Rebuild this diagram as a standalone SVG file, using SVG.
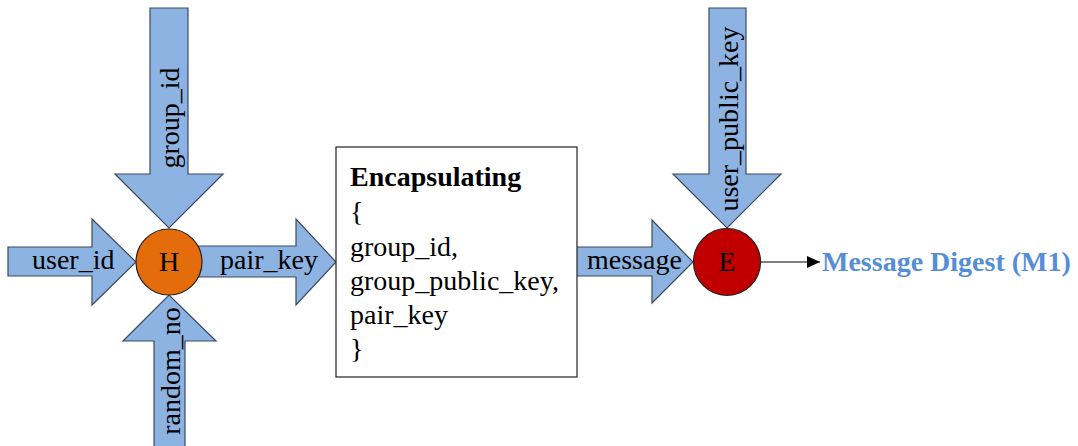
<svg xmlns="http://www.w3.org/2000/svg" width="1078" height="446" viewBox="0 0 1078 446">
<defs>
<style>
.arr{fill:#8db3e2;stroke:#3b4a5e;stroke-width:1.2;stroke-linejoin:miter}
.node{stroke:#222;stroke-width:1.2}
</style>
<marker id="ah" markerWidth="13" markerHeight="12" refX="13" refY="6" orient="auto" markerUnits="userSpaceOnUse">
<path d="M0,0 L13,6 L0,12 Z" fill="#000"/>
</marker>
</defs>
<rect width="1078" height="446" fill="#fff"/>
<g font-family="'Liberation Serif', 'Times New Roman', serif" font-size="28" fill="#000">
<g id="connectors">
<g id="arrow-group_id">
<path class="arr" d="M150,8 H188 V174 H223 L169,228 L115,174 H150 Z"/>
<text transform="translate(179,118) rotate(-90)" text-anchor="middle">group_id</text>
</g>
<g id="arrow-user_id">
<path class="arr" d="M8,247 H92 V219 L136,262 L92,305 V276 H8 Z"/>
<text x="32" y="269">user_id</text>
</g>
<g id="arrow-random_no">
<path class="arr" d="M154,446 V341 H123 L169,295 L216,341 H185 V446"/>
<text transform="translate(180,371) rotate(-90)" text-anchor="middle">random_no</text>
</g>
<g id="arrow-pair_key">
<path class="arr" d="M196,246 H296 V219 L336,262 L296,305 V277 H196 Z"/>
<text x="220" y="269">pair_key</text>
</g>
<g id="arrow-message">
<path class="arr" d="M576,247 H652 V220 L693,262 L652,303 V276 H576 Z"/>
<text x="587" y="269">message</text>
</g>
<g id="arrow-user_public_key">
<path class="arr" d="M709,8 H746 V174 H781 L727,228 L673,174 H709 Z"/>
<text transform="translate(738,119) rotate(-90)" text-anchor="middle">user_public_key</text>
</g>
<line id="arrow-digest" x1="761" y1="262" x2="820" y2="262" stroke="#000" stroke-width="1.2" marker-end="url(#ah)"/>
</g>
<g id="node-H">
<circle class="node" cx="169" cy="262" r="33" fill="#e46c0a"/>
<text x="169" y="271" text-anchor="middle">H</text>
</g>
<g id="node-encapsulating">
<rect x="336" y="147" width="241" height="230" fill="#fff" stroke="#222" stroke-width="1.2"/>
<text x="350" y="186" font-weight="bold">Encapsulating</text>
<text x="350" y="221">{</text>
<text x="350" y="256">group_id,</text>
<text x="350" y="290">group_public_key,</text>
<text x="350" y="324">pair_key</text>
<text x="350" y="358">}</text>
</g>
<g id="node-E">
<circle class="node" cx="727" cy="262" r="33.5" fill="#c00000"/>
<text x="727" y="271" text-anchor="middle">E</text>
</g>
<g id="node-digest">
<text x="822" y="271" font-weight="bold" fill="#558ed5">Message Digest (M1)</text>
</g>
</g>
</svg>
